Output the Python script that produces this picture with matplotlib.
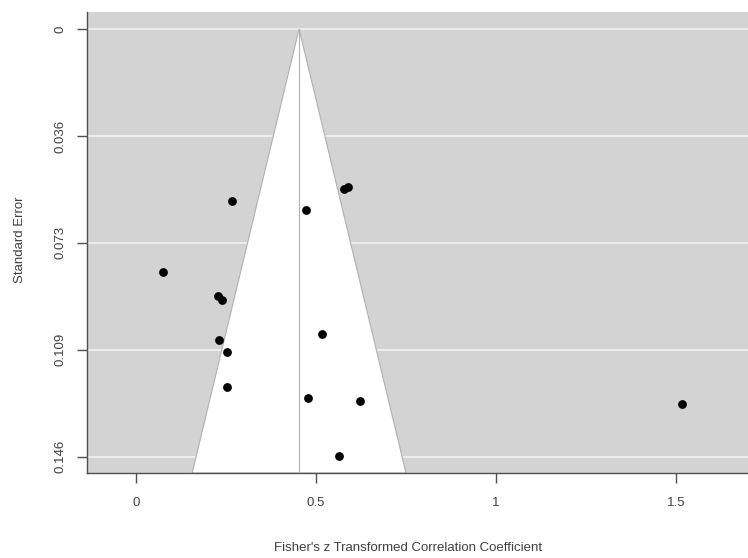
import matplotlib
matplotlib.use("Agg")
import matplotlib.pyplot as plt
import numpy as np

# Data
effect = [0.266, 0.577, 0.588, 0.471, 0.076, 0.229, 0.238, 0.516, 0.231,
          0.252, 0.254, 0.479, 0.622, 0.564, 1.516]
se = [0.0587, 0.0545, 0.0540, 0.0619, 0.0828, 0.0910, 0.0925, 0.1041, 0.1060,
      0.1104, 0.1222, 0.1260, 0.1268, 0.1457, 0.1280]
estimate = 0.453
x_ticks = [0, 0.5, 1, 1.5]
x_tick_labels = ["0", "0.5", "1", "1.5"]
y_ticks = [0, 0.0365, 0.073, 0.1095, 0.146]
y_tick_labels = ["0", "0.036", "0.073", "0.109", "0.146"]

plt.rcParams['font.family'] = ['Liberation Sans', 'DejaVu Sans']

fig = plt.figure(figsize=(7.48, 5.58), dpi=100)
W, H = 748, 558
left, right, top, bottom = 87, 748, 12, 473
ax = fig.add_axes([left / W, 1 - bottom / H, (right - left) / W, (bottom - top) / H])

ax.set_facecolor('#d3d3d3')
xlo = (87 - 136) / 360
xhi = (748 - 136) / 360
ylo = (473 - 29) / 2930
yhi = (12 - 29) / 2930
ax.set_xlim(xlo, xhi)
ax.set_ylim(ylo, yhi)

# grid lines
for yt in y_ticks:
    ax.axhline(yt, color='#f0f0f0', lw=1.3, zorder=1)

# funnel
ybot = ylo
xs = [estimate - 1.96 * ybot, estimate, estimate + 1.96 * ybot]
ys = [ybot, 0, ybot]
ax.fill(xs, ys, facecolor='white', edgecolor='#b0b0b0', lw=0.8, zorder=2)
ax.plot([estimate, estimate], [ybot, 0], color='#b0b0b0', lw=0.8, zorder=3)

ax.scatter(effect, se, s=40, color='black', zorder=4, linewidths=0)

ax.set_xticks(x_ticks)
ax.set_xticklabels(x_tick_labels)
ax.set_yticks(y_ticks)
ax.set_yticklabels(y_tick_labels, rotation=90, va='center')

for s in ['top', 'right']:
    ax.spines[s].set_visible(False)
for s in ['left', 'bottom']:
    ax.spines[s].set_color('#505050')
    ax.spines[s].set_linewidth(1.0)

ax.tick_params(axis='both', colors='#505050', labelcolor='#404040', labelsize=9.5,
               length=7, width=1.0, direction='out')
ax.tick_params(axis='x', pad=10)
ax.tick_params(axis='y', pad=8)

ax.set_xlabel("Fisher's z Transformed Correlation Coefficient", fontsize=9.5, color='#404040')
ax.xaxis.set_label_coords((408 - left) / (right - left), -(548 - bottom) / (bottom - top))
ax.set_ylabel("Standard Error", fontsize=9.5, color='#404040')
ax.yaxis.set_label_coords(-(left - 20) / (right - left), (bottom - 240) / (bottom - top))
ax.xaxis.label.set_va('center')
ax.yaxis.label.set_va('center')

fig.savefig("out.png", dpi=100)
